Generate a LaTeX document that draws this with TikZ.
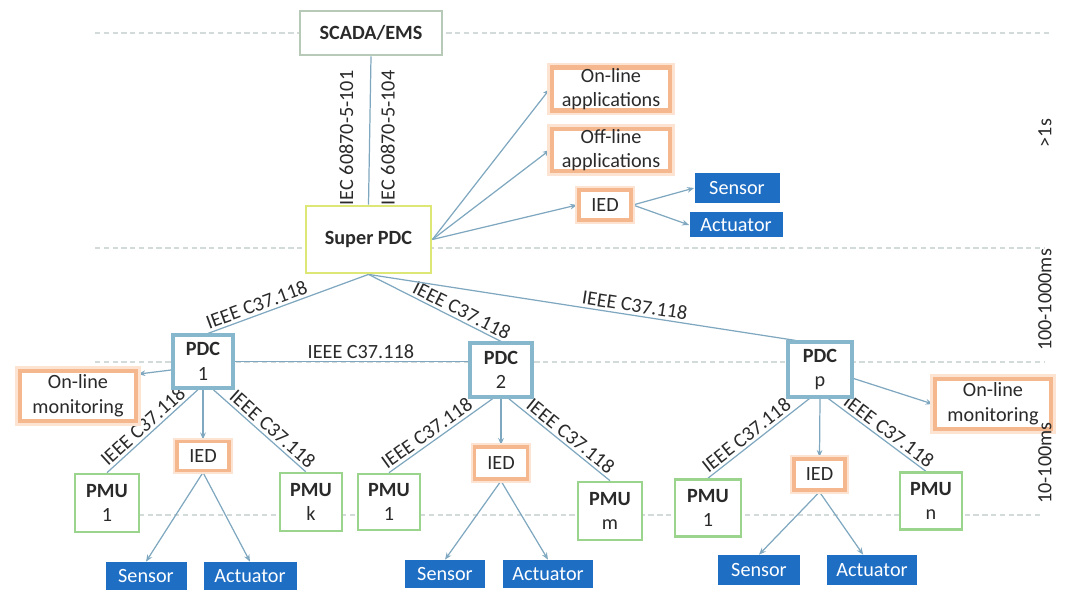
\documentclass[tikz,border=0pt]{standalone}
\usepackage{fontspec}
\setmainfont{Carlito}
\usetikzlibrary{arrows.meta}
\pgfdeclarelayer{bg}
\pgfsetlayers{bg,main}

\definecolor{linkC}{HTML}{7FA8C0}
\definecolor{gridC}{HTML}{D2DADA}
\definecolor{scadaC}{HTML}{B7C9B7}
\definecolor{superC}{HTML}{DCE775}
\definecolor{pdcC}{HTML}{86B7CC}
\definecolor{pmuC}{HTML}{9BD48C}
\definecolor{orgC}{HTML}{F5B78E}
\definecolor{orgSoft}{HTML}{FCE3D2}
\definecolor{devC}{HTML}{1E6EC4}
\definecolor{inkC}{HTML}{2A2A2A}

\begin{document}
\begin{tikzpicture}[x=0.02cm, y=-0.02cm,
  txt/.style={font=\fontsize{11.5}{14}\selectfont, text=inkC},
  sz/.style 2 args={minimum width=#1*0.02cm, minimum height=#2*0.02cm},
  box/.style={txt, fill=white, align=center, inner sep=0pt},
  scadabox/.style={box, draw=scadaC, line width=1.6pt, font=\fontsize{11.5}{14}\selectfont\bfseries},
  superbox/.style={box, draw=superC, line width=1.6pt, font=\fontsize{11.5}{14}\selectfont\bfseries},
  pdcbox/.style={box, draw=pdcC, line width=1.8pt},
  pmubox/.style={box, draw=pmuC, line width=1.5pt},
  appbox/.style={box, draw=orgC, line width=2.6pt, preaction={draw=orgSoft, line width=5.4pt}},
  iedbox/.style={box, draw=orgC, line width=2.2pt, preaction={draw=orgSoft, line width=4.2pt}},
  devbox/.style={txt, fill=devC, text=white, align=center, inner sep=0pt},
  tier/.style={draw=gridC, line width=0.8pt, dash pattern=on 3pt off 2pt},
  link/.style={draw=linkC, line width=0.7pt},
  arr/.style={link, -{Stealth[length=4pt, width=3.2pt]}},
  proto/.style={txt, sloped, above, inner sep=1.5pt},
  timing/.style={txt, rotate=90}
]
\useasboundingbox (0,0) rectangle (1075,591);

% ---------- top level ----------
\node[scadabox, sz={142}{44}] (scada) at (371,33) {SCADA/EMS};
\node[superbox, sz={125}{67}] (spdc) at (368.5,239.5) {Super PDC};
\node[appbox, sz={118}{43}] (onapp) at (611,89) {On-line\\applications};
\node[appbox, sz={118}{40}] (offapp) at (611,150) {Off-line\\applications};
\node[iedbox, sz={52}{30}] (iedT) at (605,205) {IED};
\node[devbox, sz={85}{30}] (sensT) at (737,188) {Sensor};
\node[devbox, sz={93}{25}] (actT) at (736,225) {Actuator};

% ---------- PDC 1 group ----------
\node[pdcbox, sz={60}{53}] (pdc1) at (203,361.5) {\textbf{PDC}\\1};
\node[appbox, sz={116}{50}] (mon1) at (78,396) {On-line\\monitoring};
\node[iedbox, sz={52}{29}] (ied1) at (203,456) {IED};
\node[pmubox, sz={64}{58}] (pmu1a) at (107,503) {\textbf{PMU}\\1};
\node[pmubox, sz={62}{58}] (pmuk) at (311,502) {\textbf{PMU}\\k};
\node[devbox, sz={81}{28}] (sens1) at (146,576) {Sensor};
\node[devbox, sz={93}{28}] (act1) at (250,576) {Actuator};

% ---------- PDC 2 group ----------
\node[pdcbox, sz={62}{54}] (pdc2) at (501,370) {\textbf{PDC}\\2};
\node[iedbox, sz={53}{32}] (ied2) at (501,463) {IED};
\node[pmubox, sz={62}{56}] (pmu1b) at (389,502) {\textbf{PMU}\\1};
\node[pmubox, sz={64}{58}] (pmum) at (610,511) {\textbf{PMU}\\m};
\node[devbox, sz={80}{28}] (sens2) at (445,574) {Sensor};
\node[devbox, sz={90}{28}] (act2) at (548,574) {Actuator};

% ---------- PDC p group ----------
\node[pdcbox, sz={64}{55}] (pdcp) at (820,369.5) {\textbf{PDC}\\p};
\node[appbox, sz={116}{50}] (monp) at (993,404) {On-line\\monitoring};
\node[iedbox, sz={51}{31}] (iedp) at (819.5,474.5) {IED};
\node[pmubox, sz={66}{57}] (pmu1c) at (708,508) {\textbf{PMU}\\1};
\node[pmubox, sz={62}{57}] (pmun) at (931,501) {\textbf{PMU}\\n};
\node[devbox, sz={82}{30}] (sensp) at (759,570) {Sensor};
\node[devbox, sz={90}{30}] (actp) at (872,570) {Actuator};

% ---------- latency scale ----------
\node[timing] (tslow) at (1045,133) {>1s};
\node[timing] (tmid) at (1045,300) {100-1000ms};
\node[timing] (tfast) at (1045,463) {10-100ms};

\begin{pgfonlayer}{bg}
  % tier separators
  \coordinate (ta1) at (95,33);   \coordinate (ta2) at (1050,33);
  \coordinate (tb1) at (95,248);  \coordinate (tb2) at (1045,248);
  \coordinate (tc1) at (95,362);  \coordinate (tc2) at (1045,362);
  \coordinate (td1) at (95,515);  \coordinate (td2) at (1040,515);
  \draw[tier] (ta1) -- (ta2);
  \draw[tier] (tb1) -- (tb2);
  \draw[tier] (tc1) -- (tc2);
  \draw[tier] (td1) -- (td2);

  % SCADA link
  \draw[link] (scada.south) -- (spdc.north)
    node[txt, pos=0.55, rotate=90, anchor=south, inner sep=9pt] {IEC 60870-5-101}
    node[txt, pos=0.55, rotate=90, anchor=north, inner sep=6pt] {IEC 60870-5-104};

  % Super PDC outputs
  \draw[arr] (spdc.east) -- (onapp.west);
  \draw[arr] (spdc.east) -- (offapp.west);
  \draw[arr] (spdc.east) -- (iedT.west);
  \draw[arr] (iedT.east) -- (sensT.west);
  \draw[arr] (iedT.east) -- (actT.west);

  % Super PDC to PDCs
  \draw[link] (spdc.south) -- (pdc1.80) node[proto, pos=0.675] {IEEE C37.118};
  \draw[link] (spdc.south) -- (pdc2.north) node[proto, pos=0.67] {IEEE C37.118};
  \draw[link] (spdc.south) -- (pdcp.130) node[proto, pos=0.62] {IEEE C37.118};
  \draw[link] (pdc1.east) -- (pdc1.east -| pdc2.west) node[proto, pos=0.54] {IEEE C37.118};

  % PDC 1
  \draw[arr] (pdc1.195) -- (mon1.20);
  \draw[arr] (pdc1.south) -- (ied1.north);
  \draw[link] (pdc1.260) -- (pmu1a.north) node[proto, pos=0.53] {IEEE C37.118};
  \draw[link] (pdc1.290) -- (pmuk.100) node[proto, pos=0.57] {IEEE C37.118};
  \draw[arr] (ied1.south) -- (sens1.north);
  \draw[arr] (ied1.south) -- (act1.north);

  % PDC 2
  \draw[arr] (pdc2.south) -- (ied2.north);
  \draw[link] (pdc2.254) -- (pmu1b.north) node[proto, pos=0.58] {IEEE C37.118};
  \draw[link] (pdc2.285) -- (pmum.north) node[proto, pos=0.55] {IEEE C37.118};
  \draw[arr] (ied2.south) -- (sens2.north);
  \draw[arr] (ied2.south) -- (act2.north);

  % PDC p
  \draw[arr] (pdcp.345) -- (monp.west);
  \draw[arr] (pdcp.south) -- (iedp.north);
  \draw[link] (pdcp.250) -- (pmu1c.north) node[proto, pos=0.56] {IEEE C37.118};
  \draw[link] (pdcp.286) -- (pmun.100) node[proto, pos=0.56] {IEEE C37.118};
  \draw[arr] (iedp.south) -- (sensp.north);
  \draw[arr] (iedp.south) -- (actp.120);
\end{pgfonlayer}
\end{tikzpicture}
\end{document}
